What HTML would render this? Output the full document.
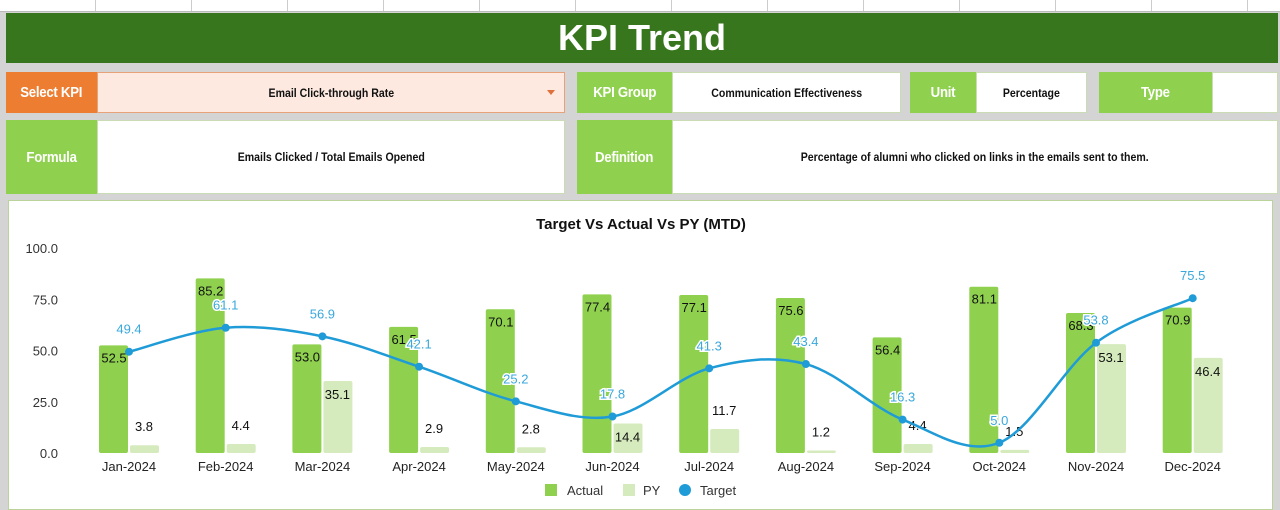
<!DOCTYPE html>
<html><head><meta charset="utf-8"><style>
body{margin:0;width:1280px;height:510px;overflow:hidden;background:#d4d4d4;font-family:"Liberation Sans",Arial,sans-serif;position:relative}
.a{position:absolute;box-sizing:border-box;display:flex;align-items:center;justify-content:center}
.a span.t{display:inline-block;transform:scaleX(0.88);white-space:nowrap}
.lab{background:#8fd14f;color:#fff;font-weight:bold;font-size:15px;letter-spacing:-0.3px}
.val{background:#fff;color:#111;font-weight:bold;font-size:12px;border:1px solid #c9dcb4}
</style></head><body>
<div class="a" style="left:0;top:0;width:1280px;height:12px;background:#fff;border-bottom:1px solid #bbb;background-image:repeating-linear-gradient(90deg,transparent 0 95px,#ccc 95px 96px)"></div>
<div class="a" style="left:6px;top:13px;width:1272px;height:50px;background:#38761d;color:#fff;font-weight:bold;font-size:36px">KPI Trend</div>
<div class="a lab" style="left:6px;top:72px;width:91px;height:41px;background:#ed7d31"><span class="t">Select KPI</span></div>
<div class="a val" style="left:97px;top:72px;width:468px;height:41px;background:#fde9df;border:1px solid #e8a27a"><span class="t">Email Click-through Rate</span><span style="position:absolute;right:9px;top:17px;width:0;height:0;border-left:4px solid transparent;border-right:4px solid transparent;border-top:5px solid #e0703a"></span></div>
<div class="a lab" style="left:577px;top:72px;width:95px;height:41px"><span class="t">KPI Group</span></div>
<div class="a val" style="left:672px;top:72px;width:229px;height:41px"><span class="t">Communication Effectiveness</span></div>
<div class="a lab" style="left:910px;top:72px;width:66px;height:41px"><span class="t">Unit</span></div>
<div class="a val" style="left:976px;top:72px;width:111px;height:41px"><span class="t">Percentage</span></div>
<div class="a lab" style="left:1099px;top:72px;width:113px;height:41px"><span class="t">Type</span></div>
<div class="a val" style="left:1212px;top:72px;width:66px;height:41px"></div>
<div class="a lab" style="left:6px;top:120px;width:91px;height:74px"><span class="t">Formula</span></div>
<div class="a val" style="left:97px;top:120px;width:468px;height:74px"><span class="t">Emails Clicked / Total Emails Opened</span></div>
<div class="a lab" style="left:577px;top:120px;width:95px;height:74px"><span class="t">Definition</span></div>
<div class="a val" style="left:672px;top:120px;width:606px;height:74px"><span class="t">Percentage of alumni who clicked on links in the emails sent to them.</span></div>
<div style="position:absolute;left:8px;top:200px;width:1265px;height:310px;background:#fff;border:1px solid #b9d39a;box-sizing:border-box"></div>
<svg id="s" style="position:absolute;left:0;top:0" width="1280" height="510" font-family="Liberation Sans,Arial,sans-serif"></svg>
<script>
var A=[52.5,85.2,53.0,61.5,70.1,77.4,77.1,75.6,56.4,81.1,68.3,70.9],P=[3.8,4.4,35.1,2.9,2.8,14.4,11.7,1.2,4.4,1.5,53.1,46.4],T=[49.4,61.1,56.9,42.1,25.2,17.8,41.3,43.4,16.3,5.0,53.8,75.5];
var M=["Jan","Feb","Mar","Apr","May","Jun","Jul","Aug","Sep","Oct","Nov","Dec"];
var k=2.05,z=453,h='';
h+='<text x="641" y="229" text-anchor="middle" font-size="15" font-weight="bold" fill="#111">Target Vs Actual Vs PY (MTD)</text>';
for(var i=0;i<=4;i++){h+='<text x="58" y="'+(z-i*25*k+5)+'" text-anchor="end" font-size="13" fill="#333">'+(i*25).toFixed(1)+'</text>';}
var pts=[];
for(var i=0;i<12;i++){var c=129+96.7*i,ya=z-A[i]*k,yp=z-P[i]*k;pts.push([c,z-T[i]*k]);
h+='<rect x="'+(c-30)+'" y="'+ya+'" width="29" height="'+(A[i]*k)+'" rx="2" fill="#8fd14f"/>';
h+='<rect x="'+(c+1)+'" y="'+yp+'" width="29" height="'+(P[i]*k)+'" rx="2" fill="#d5ebbd"/>';
h+='<text x="'+(c-15)+'" y="'+(ya+17)+'" text-anchor="middle" font-size="13" fill="#111">'+A[i].toFixed(1)+'</text>';
var ly=P[i]*k>25?yp+18:yp-14;
h+='<text x="'+(c+15)+'" y="'+ly+'" text-anchor="middle" font-size="13" fill="#111">'+P[i].toFixed(1)+'</text>';
h+='<text x="'+c+'" y="'+(z+18)+'" text-anchor="middle" font-size="13" fill="#222">'+M[i]+'-2024</text>';}
var d='M'+pts[0][0]+','+pts[0][1];
for(var i=0;i<11;i++){var p0=pts[Math.max(i-1,0)],p1=pts[i],p2=pts[i+1],p3=pts[Math.min(i+2,11)];
d+=' C'+(p1[0]+(p2[0]-p0[0])/6)+','+(p1[1]+(p2[1]-p0[1])/6)+' '+(p2[0]-(p3[0]-p1[0])/6)+','+(p2[1]-(p3[1]-p1[1])/6)+' '+p2[0]+','+p2[1];}
h+='<path d="'+d+'" fill="none" stroke="#1f9bd7" stroke-width="2.5"/>';
for(var i=0;i<12;i++){h+='<circle cx="'+pts[i][0]+'" cy="'+pts[i][1]+'" r="4" fill="#1f9bd7"/>';
h+='<text x="'+pts[i][0]+'" y="'+(pts[i][1]-18)+'" text-anchor="middle" font-size="13" fill="#3aa8dc" stroke="#fff" stroke-width="3" paint-order="stroke">'+T[i].toFixed(1)+'</text>';}
h+='<rect x="545" y="484" width="12" height="12" fill="#8fd14f"/><text x="567" y="495" font-size="13" fill="#333">Actual</text>';
h+='<rect x="623" y="484" width="12" height="12" fill="#d5ebbd"/><text x="643" y="495" font-size="13" fill="#333">PY</text>';
h+='<circle cx="685" cy="490" r="6" fill="#1f9bd7"/><text x="700" y="495" font-size="13" fill="#333">Target</text>';
document.getElementById('s').innerHTML=h;
</script>
</body></html>
